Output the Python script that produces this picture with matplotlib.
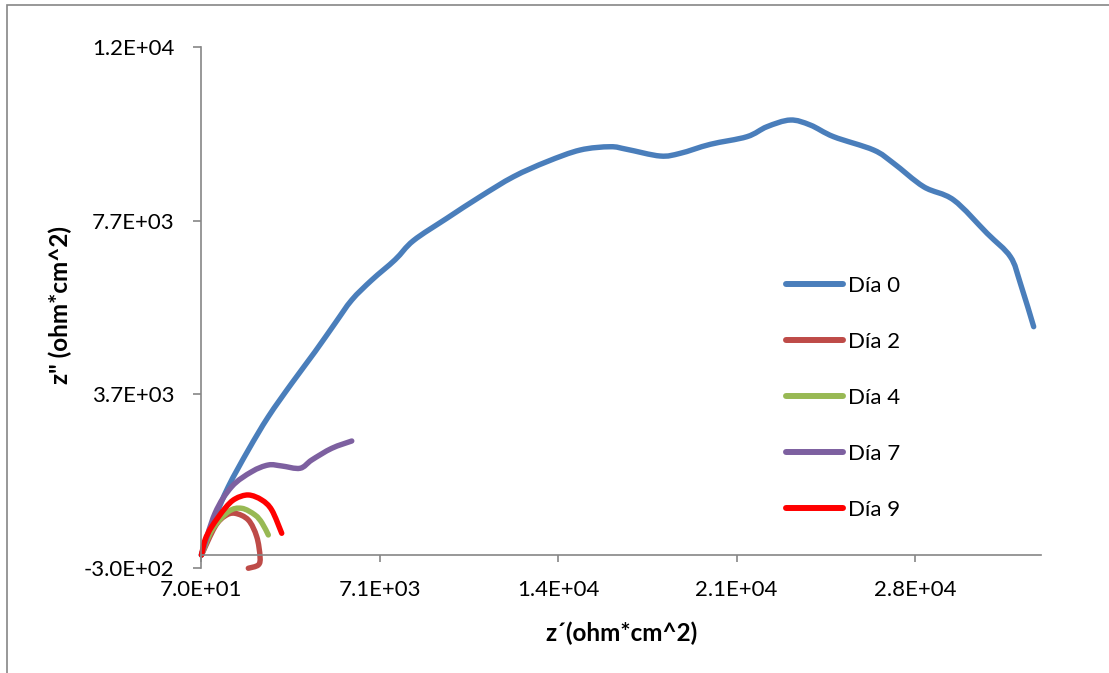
import matplotlib
matplotlib.use("Agg")
import matplotlib.pyplot as plt
import numpy as np
from matplotlib.patches import Rectangle, PathPatch
from matplotlib.path import Path
from matplotlib.lines import Line2D
from matplotlib.ticker import FixedLocator, FuncFormatter

plt.rcParams['font.family'] = ['Lato', 'DejaVu Sans']

# ---- data ----
series_names = ["Día 0", "Día 2", "Día 4", "Día 7", "Día 9"]

x_dia0 = [80, 580, 1141, 1925, 2709, 3627, 4541, 5325, 5980, 6765, 7679, 8396, 9706,
          11012, 12318, 13628, 14934, 16111, 16766, 18072, 18856, 20033, 21472, 22257,
          23171, 23955, 24869, 26438, 27222, 28399, 29575, 30885, 31799, 32191, 32713]
y_dia0 = [0, 806, 1573, 2418, 3185, 3954, 4682, 5336, 5873, 6333, 6800, 7240, 7754,
          8252, 8712, 9058, 9327, 9403, 9343, 9189, 9251, 9458, 9634, 9864,
          10018, 9903, 9634, 9327, 9021, 8482, 8176, 7409, 6870, 6257, 5258]

x_dia2 = [90, 619, 1011, 1403, 1925, 2255, 2384, 2317, 1925]
y_dia2 = [0, 652, 898, 960, 806, 421, -39, -230, -306]

x_dia4 = [90, 501, 1141, 1666, 2188, 2462, 2709]
y_dia4 = [0, 576, 997, 1075, 921, 737, 461]

x_dia7 = [90, 619, 1274, 2058, 2710, 3235, 3953, 4412, 5196, 5980]
y_dia7 = [0, 960, 1573, 1918, 2073, 2050, 1997, 2188, 2457, 2625]

x_dia9 = [90, 227, 490, 1011, 1403, 1925, 2451, 2843, 3235]
y_dia9 = [0, 345, 652, 1075, 1290, 1382, 1267, 1036, 500]

x_ticks = [70, 7070, 14070, 21070, 28070]
y_ticks = [-300, 3700, 7700, 11700]
x_label = "z´(ohm*cm^2)"
y_label = 'z" (ohm*cm^2)'

colors = ["#4A7EBB", "#BE4B48", "#98B954", "#7D60A0", "#FF0000"]

# ---- figure ----
W, H = 1109, 673
fig = plt.figure(figsize=(W / 100, H / 100), dpi=100)
fig.patch.set_facecolor("white")
ax = fig.add_axes([201 / W, 1 - 568 / H, (1041 - 201) / W, (568 - 47) / H])
ax.set_xlim(70, 33000)
ax.set_ylim(-300, 11700)


def smooth_path(xv, yv):
    """Excel-style smoothed line: cubic Bezier segments through the data points."""
    p = np.column_stack([xv, yv]).astype(float)
    n = len(p)
    verts = [p[0]]
    codes = [Path.MOVETO]
    for i in range(n - 1):
        p0 = p[i - 1] if i > 0 else p[i]
        p1, p2 = p[i], p[i + 1]
        p3 = p[i + 2] if i + 2 < n else p[i + 1]
        c1 = p1 + (p2 - p0) / 6.0
        c2 = p2 - (p3 - p1) / 6.0
        verts += [c1, c2, p2]
        codes += [Path.CURVE4] * 3
    return Path(verts, codes)


LW = 3.9
xs = [x_dia0, x_dia2, x_dia4, x_dia7, x_dia9]
ys = [y_dia0, y_dia2, y_dia4, y_dia7, y_dia9]
handles = []
for xv, yv, c, n in zip(xs, ys, colors, series_names):
    patch = PathPatch(smooth_path(xv, yv), facecolor="none", edgecolor=c, lw=LW,
                      capstyle="round", joinstyle="round", clip_on=False)
    ax.add_patch(patch)
    handles.append(Line2D([], [], color=c, lw=4.3, solid_capstyle="round", label=n))

axis_col = "#868686"
for s in ["top", "right"]:
    ax.spines[s].set_visible(False)
ax.spines["left"].set_color(axis_col)
ax.spines["bottom"].set_color(axis_col)
ax.spines["bottom"].set_position(("data", 0))
ax.spines["left"].set_linewidth(1.2)
ax.spines["bottom"].set_linewidth(1.2)

ax.xaxis.set_major_locator(FixedLocator(x_ticks))
ax.yaxis.set_major_locator(FixedLocator(y_ticks))


def sci(v, p):
    return "%.1E" % v


ax.xaxis.set_major_formatter(FuncFormatter(sci))
ax.yaxis.set_major_formatter(FuncFormatter(sci))

ax.tick_params(axis="x", direction="out", length=5, width=1.2, color=axis_col,
               pad=13, labelsize=16, labelcolor="black")
ax.tick_params(axis="y", direction="out", length=6, width=1.2, color=axis_col,
               pad=13, labelsize=16, labelcolor="black")

fig.text(621 / W, 1 - 633 / H, x_label, ha="center", va="center",
         fontsize=17.5, fontweight="bold")
fig.text(60 / W, 1 - 305 / H, y_label, ha="center", va="center",
         fontsize=17.5, fontweight="bold", rotation=90)

leg = ax.legend(handles=handles, loc="upper left", bbox_to_anchor=(786 / W, 1 - 276 / H),
                bbox_transform=fig.transFigure, frameon=False, fontsize=16,
                handlelength=2.55, handletextpad=0.25, labelspacing=1.62,
                borderpad=0, borderaxespad=0)

# chart frame (Excel border)
fig.add_artist(Rectangle((7 / W, -0.1), 1.2, 1.1 - 5 / H, transform=fig.transFigure,
                         fill=False, edgecolor=axis_col, lw=1.2))

fig.savefig("out.png", dpi=100)
